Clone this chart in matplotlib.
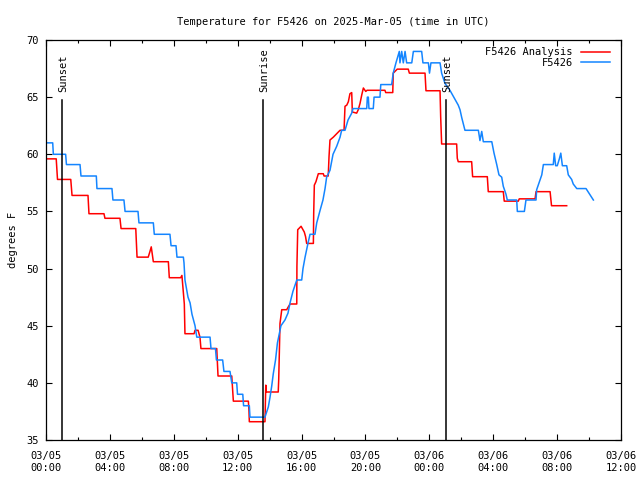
import matplotlib
matplotlib.use('Agg')
import matplotlib.pyplot as plt
from matplotlib.ticker import MultipleLocator, FixedLocator

# hours since 2025-03-05 00:00 UTC
obs_hours = [0.00, 0.42, 0.46, 1.23, 1.28, 2.13, 2.19, 3.15, 3.19, 4.13, 4.19, 4.88, 4.95,
             5.76, 5.82, 6.72, 6.78, 7.76, 7.83, 8.14, 8.20, 8.60, 8.64, 8.70, 8.89, 9.02,
             9.14, 9.33, 9.44, 10.27, 10.33, 10.61, 10.67, 11.06, 11.14, 11.52, 11.63, 11.94,
             11.99, 12.32, 12.37, 12.73, 12.77, 13.71, 13.92, 14.02, 14.13, 14.23, 14.37,
             14.49, 14.71, 14.96, 15.15, 15.28, 15.46, 15.70, 16.01, 16.09, 16.22, 16.40,
             16.53, 16.84, 16.95, 17.16, 17.34, 17.47, 17.57, 17.78, 17.97, 18.20, 18.41,
             18.51, 18.72, 18.91, 19.14, 19.22, 20.08, 20.12, 20.18, 20.22, 20.49, 20.54,
             20.91, 20.96, 21.64, 21.74, 21.91, 22.12, 22.16, 22.27, 22.37, 22.48, 22.58,
             22.90, 23.00, 23.52, 23.60, 23.94, 24.01, 24.10, 24.67, 24.77, 24.98, 25.29,
             25.61, 25.81, 25.92, 26.03, 26.23, 27.07, 27.17, 27.28, 27.38, 27.91, 28.05,
             28.22, 28.36, 28.53, 28.63, 28.80, 28.88, 29.47, 29.51, 29.95, 30.05, 30.68,
             30.72, 30.89, 31.04, 31.14, 31.76, 31.82, 31.91, 32.01, 32.14, 32.23, 32.33,
             32.60, 32.70, 32.91, 33.01, 33.23, 33.81, 34.27]
obs_temp = [61.0, 61.0, 60.0, 60.0, 59.1, 59.1, 58.1, 58.1, 57.0, 57.0, 56.0, 56.0, 55.0,
            55.0, 54.0, 54.0, 53.0, 53.0, 52.0, 52.0, 51.0, 51.0, 50.5, 49.0, 47.5, 47.0,
            46.0, 45.0, 44.0, 44.0, 43.0, 43.0, 42.0, 42.0, 41.0, 41.0, 40.0, 40.0,
            39.0, 39.0, 38.0, 38.0, 37.0, 37.0, 37.9, 38.7, 39.7, 40.8, 42.0,
            43.5, 45.0, 45.5, 46.1, 47.0, 48.0, 49.0, 49.0, 50.0, 51.0, 52.2,
            53.0, 53.0, 54.0, 55.1, 56.0, 57.0, 58.0, 58.6, 60.0, 60.7, 61.5,
            62.1, 62.1, 63.0, 63.6, 64.0, 64.0, 65.0, 65.0, 64.0, 64.0, 65.0,
            65.0, 66.1, 66.1, 67.1, 68.0, 69.0, 68.0, 69.0, 68.0, 69.0, 68.0,
            68.0, 69.0, 69.0, 68.0, 68.0, 67.1, 68.0, 68.0, 67.1, 66.2, 65.6,
            64.8, 64.3, 63.9, 63.2, 62.1, 62.1, 61.2, 62.0, 61.1, 61.1, 60.1,
            59.1, 58.2, 58.0, 57.2, 56.5, 56.0, 56.0, 55.0, 55.0, 56.0, 56.0,
            56.9, 57.6, 58.2, 59.1, 59.1, 60.1, 59.0, 59.0, 59.6, 60.1, 59.0,
            59.0, 58.2, 57.8, 57.4, 57.0, 57.0, 56.0]

ana_hours = [0.00, 0.64, 0.72, 1.55, 1.63, 2.63, 2.69, 3.63, 3.69, 4.63, 4.70, 5.62, 5.70,
             6.40, 6.51, 6.59, 6.72, 7.66, 7.72, 8.43, 8.51, 8.66, 8.70, 9.27, 9.33, 9.52,
             9.64, 9.70, 10.69, 10.77, 11.63, 11.73, 12.67, 12.71, 12.73, 13.71, 13.76,
             13.77, 14.54, 14.57, 14.61, 14.65, 14.76, 15.07, 15.15, 15.28, 15.70, 15.71,
             15.76, 15.97, 16.17, 16.25, 16.32, 16.74, 16.76, 16.80, 16.90, 17.05, 17.36,
             17.41, 17.67, 17.72, 17.78, 17.99, 18.20, 18.41, 18.66, 18.72, 18.83, 18.93,
             19.03, 19.14, 19.18, 19.45, 19.55, 19.66, 19.77, 19.87, 20.02, 20.10, 21.22,
             21.27, 21.71, 21.74, 21.99, 22.68, 22.75, 23.73, 23.79, 24.67, 24.71, 24.77,
             25.71, 25.75, 25.81, 26.65, 26.71, 27.63, 27.69, 28.63, 28.69, 29.57, 29.63,
             30.62, 30.68, 31.56, 31.65, 32.60]
ana_temp = [59.6, 59.6, 57.8, 57.8, 56.4, 56.4, 54.8, 54.8, 54.4, 54.4, 53.5, 53.5, 51.0,
            51.0, 51.5, 51.9, 50.6, 50.6, 49.2, 49.2, 49.4, 46.9, 44.3, 44.3, 44.6, 44.6,
            44.0, 43.0, 43.0, 40.6, 40.6, 38.4, 38.4, 37.5, 36.6, 36.6, 39.8,
            39.2, 39.2, 40.3, 42.7, 45.2, 46.4, 46.4, 46.6, 46.9, 46.9, 50.2,
            53.4, 53.7, 53.2, 52.8, 52.2, 52.2, 54.8, 57.3, 57.6, 58.3, 58.3,
            58.1, 58.1, 59.8, 61.25, 61.5, 61.8, 62.1, 62.1, 64.2, 64.3, 64.6,
            65.3, 65.4, 63.7, 63.6, 63.9, 64.45, 65.2, 65.8, 65.5, 65.6, 65.6,
            65.4, 65.4, 67.1, 67.45, 67.45, 67.1, 67.1, 65.56, 65.56, 63.3, 60.9,
            60.9, 59.65, 59.35, 59.35, 58.04, 58.04, 56.73, 56.73, 55.9, 55.9, 56.1,
            56.1, 56.73, 56.73, 55.5, 55.5]

event_names = ['Sunset', 'Sunrise', 'Sunset']
event_hours = [1.0, 13.59, 25.04]

tick_hours = [0, 4, 8, 12, 16, 20, 24, 28, 32, 36]
tick_labels = ['03/05\n00:00', '03/05\n04:00', '03/05\n08:00', '03/05\n12:00',
               '03/05\n16:00', '03/05\n20:00', '03/06\n00:00', '03/06\n04:00',
               '03/06\n08:00', '03/06\n12:00']

plt.rcParams['font.family'] = 'DejaVu Sans Mono'
plt.rcParams['font.size'] = 7.5

fig = plt.figure(figsize=(6.4, 4.8), dpi=100)
ax = fig.add_axes([46/640, 40/480, 575/640, 400/480])

ax.plot(ana_hours, ana_temp, color='#ff0000', lw=1.1, label='F5426 Analysis')
ax.plot(obs_hours, obs_temp, color='#1485ff', lw=1.1, label='F5426')

for name, h in zip(event_names, event_hours):
    ax.axvline(h, ymin=0, ymax=0.85, color='black', lw=1.1)
    ax.text(h + 0.08, 0.87, name, transform=ax.get_xaxis_transform(),
            rotation=90, ha='center', va='bottom', fontsize=7.5)

ax.set_xlim(0, 36)
ax.set_ylim(35, 70)
ax.xaxis.set_major_locator(FixedLocator(tick_hours))
ax.set_xticklabels(tick_labels)
ax.xaxis.set_minor_locator(MultipleLocator(2))
ax.yaxis.set_major_locator(MultipleLocator(5))
ax.tick_params(which='both', direction='in', top=True, right=True, width=0.8)
ax.tick_params(which='major', length=4, pad=8)
ax.tick_params(which='minor', length=2)
ax.tick_params(axis='y', pad=5)
for s in ax.spines.values():
    s.set_linewidth(0.9)

ax.set_title('Temperature for F5426 on 2025-Mar-05 (time in UTC)', fontsize=7.5, pad=11)
ax.set_ylabel('degrees F', labelpad=6)

leg = ax.legend(loc='upper right', bbox_to_anchor=(0.994, 1.0), frameon=False,
                markerfirst=False, handlelength=2.8, handletextpad=0.8,
                labelspacing=0.05, borderaxespad=0.3, fontsize=7.5)

fig.savefig('out.png', dpi=100)
